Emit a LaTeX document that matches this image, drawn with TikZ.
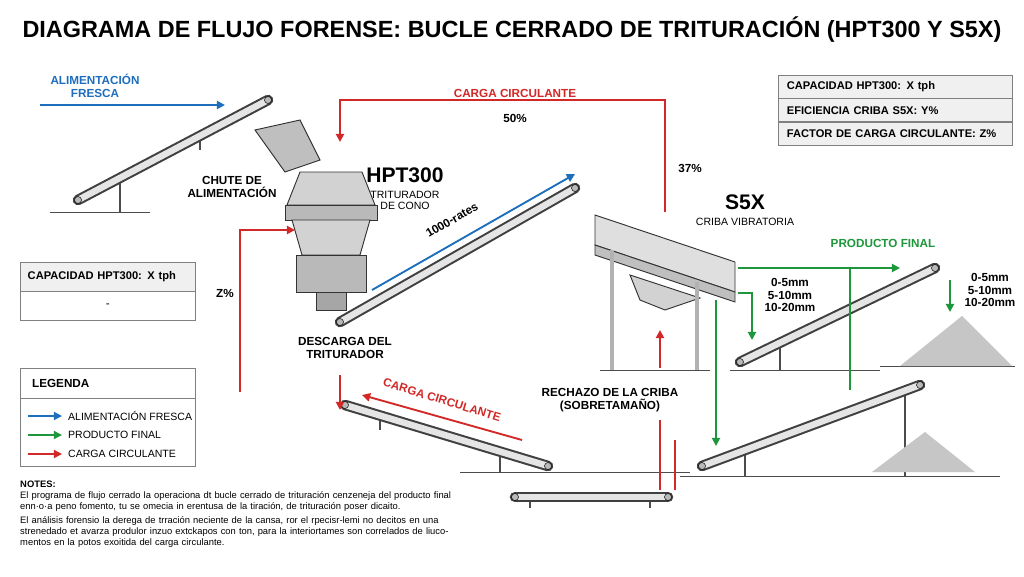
\documentclass[tikz,border=0pt]{standalone}
\usepackage{fontspec}
\setmainfont{Liberation Sans}
\usetikzlibrary{positioning}
\usetikzlibrary{calc}
\usetikzlibrary{arrows.meta}
\usetikzlibrary{patterns}
\definecolor{fblue}{RGB}{30,110,190}
\definecolor{fgreen}{RGB}{30,150,60}
\definecolor{fred}{RGB}{210,40,40}
\definecolor{steel}{RGB}{150,150,150}
\tikzset{
  flowblue/.style={draw=fblue, line width=1.6pt, -{Triangle[length=7pt,width=7pt]}},
  flowgreen/.style={draw=fgreen, line width=1.6pt, -{Triangle[length=7pt,width=7pt]}},
  flowred/.style={draw=fred, line width=1.6pt, -{Triangle[length=7pt,width=7pt]}},
  lbl/.style={font=\bfseries\fontsize{10}{11}\selectfont, align=center},
  sublbl/.style={font=\fontsize{9}{10}\selectfont, align=center},
  big/.style={font=\bfseries\fontsize{18}{19}\selectfont},
  tablerow/.style={draw=gray, fill=gray!12, minimum height=0.69cm, minimum width=7.02cm, anchor=north west, inner xsep=6pt, font=\bfseries\fontsize{9.5}{10}\selectfont, text width=6.5cm},
  ground/.style={draw=black!70, line width=0.8pt},
  leg/.style={draw=black!70, line width=1.5pt},
  machine/.style={draw=black!80, fill=gray!35, line width=0.8pt},
}
\newcommand{\belt}[2]{%
  \draw[line width=9pt, line cap=round, draw=black!75] #1 -- #2;
  \draw[line width=5.5pt, line cap=round, draw=gray!20] #1 -- #2;
  \draw[fill=gray!55, draw=black] #1 circle (3pt) #2 circle (3pt);}
\begin{document}
\begin{tikzpicture}[x=0.03cm, y=-0.03cm]
\useasboundingbox (0,0) rectangle (1024,576);
\fill[white] (0,0) rectangle (1024,576);
% Titulo
\node[font=\bfseries\fontsize{20}{22}\selectfont] (title) at (512,30) {DIAGRAMA DE FLUJO FORENSE: BUCLE CERRADO DE TRITURACIÓN (HPT300 Y S5X)};
% Suelos
\draw[ground] (50,212) -- (150,212);
\draw[ground] (460,472) -- (690,472);
\draw[ground] (680,476) -- (1000,476);
\draw[ground] (730,370) -- (880,370);
\draw[ground] (880,366) -- (1015,366);
% Cintas
\coordinate (c1a) at (78,200); \coordinate (c1b) at (268,100);
\draw[leg] (120,180) -- (120,212); \draw[leg] (200,137) -- (200,150);
\belt{(c1a)}{(c1b)}
\coordinate (c2a) at (340,322); \coordinate (c2b) at (575,188);
\belt{(c2a)}{(c2b)}
\coordinate (c3a) at (740,362); \coordinate (c3b) at (935,268);
\draw[leg] (780,343) -- (780,370); \draw[leg] (850,310) -- (850,370);
\belt{(c3a)}{(c3b)}
\coordinate (c4a) at (702,466); \coordinate (c4b) at (920,385);
\draw[leg] (745,450) -- (745,476); \draw[leg] (905,391) -- (905,476);
\belt{(c4a)}{(c4b)}
\coordinate (c5a) at (345,405); \coordinate (c5b) at (548,466);
\draw[leg] (380,415) -- (380,430); \draw[leg] (500,452) -- (500,472);
\belt{(c5a)}{(c5b)}
\coordinate (c6a) at (515,497); \coordinate (c6b) at (668,497);
\draw[leg] (530,497) -- (530,508); \draw[leg] (650,497) -- (650,508);
\belt{(c6a)}{(c6b)}
% Pilas
\fill[gray!45] (900,366) -- (962,316) -- (1012,366) -- cycle;
\fill[gray!45] (872,472) -- (925,432) -- (975,472) -- cycle;
% Trituradora HPT300
\draw[machine, fill=gray!50] (255,130) -- (300,120) -- (320,160) -- (285,172) -- cycle;
\draw[machine] (300,172) -- (362,172) -- (375,205) -- (287,205) -- cycle;
\draw[machine, fill=gray!55] (285,205) rectangle (377,220);
\draw[machine] (292,220) -- (370,220) -- (360,255) -- (302,255) -- cycle;
\draw[machine, fill=gray!55] (296,255) rectangle (366,292);
\draw[machine, fill=gray!70] (316,292) rectangle (346,310);
% Criba S5X
\draw[machine, fill=gray!25] (595,215) -- (735,262) -- (735,292) -- (595,245) -- cycle;
\draw[machine, fill=gray!50] (595,245) -- (735,292) -- (735,302) -- (595,255) -- cycle;
\draw[machine] (630,275) -- (700,298) -- (665,310) -- (640,300) -- cycle;
\draw[leg, line width=3pt, draw=gray!60] (612,250) -- (612,370);
\draw[leg, line width=3pt, draw=gray!60] (697,282) -- (697,370);
\draw[ground] (600,370) -- (710,370);
% Textos
\node[lbl, text=fblue] (feedlbl) at (95,86) {ALIMENTACIÓN\\FRESCA};
\node[lbl] (chute) at (232,187) {CHUTE DE\\ALIMENTACIÓN};
\node[big] (hpt) at (405,175) {HPT300};
\node[sublbl, below=0pt of hpt] (hptsub) {TRITURADOR\\DE CONO};
\node[lbl] (desc) at (345,348) {DESCARGA DEL\\TRITURADOR};
\node[big] (s5x) at (745,202) {S5X};
\node[sublbl, below=0pt of s5x] (s5xsub) {CRIBA VIBRATORIA};
\node[lbl] (rech) at (610,400) {RECHAZO DE LA CRIBA\\(SOBRETAMAÑO)};
\node[lbl, text=fred] (cc1) at (515,93) {CARGA CIRCULANTE};
\node[lbl] (p50) at (515,118) {50\%};
\node[lbl] (p37) at (690,168) {37\%};
\node[lbl] (pz) at (225,293) {Z\%};
\node[lbl, text=fgreen] (pf) at (883,243) {PRODUCTO FINAL};
\node[lbl] (sz1) at (790,295) {0-5mm\\5-10mm\\10-20mm};
\node[lbl] (sz2) at (990,290) {0-5mm\\5-10mm\\10-20mm};
\node[lbl, rotate=30, inner sep=1pt] (rates) at (452,220) {1000-rates};
\node[lbl, text=fred, rotate=-17, inner sep=1pt] (cc2) at (442,400) {CARGA CIRCULANTE};
% Flujos
\draw[flowblue] (40,105) -- (225,105);
\draw[flowblue] (372,290) -- (575,174);
\draw[flowred] (665,212) -- (665,100) -- (340,100) -- (340,142);
\draw[flowred] (240,392) -- (240,230) -- (295,230);
\draw[flowred] (340,375) -- (340,410);
\draw[flowred] (522,440) -- (362,395);
\draw[fred, line width=1.6pt] (660,490) -- (660,420);
\draw[flowred] (660,368) -- (660,330);
\draw[fred, line width=1.6pt] (675,490) -- (675,440);
\draw[flowgreen] (738,268) -- (900,268);
\draw[fgreen, line width=1.6pt] (850,268) -- (850,390);
\draw[flowgreen] (738,293) -- (752,293) -- (752,340);
\draw[flowgreen] (716,300) -- (716,446);
\draw[flowgreen] (950,280) -- (950,312);
% Tabla
\node[tablerow] (t1) at (778,75) {CAPACIDAD HPT300: X tph};
\node[tablerow, below=0pt of t1.south west, anchor=north west] (t2) {EFICIENCIA CRIBA S5X: Y\%};
\node[tablerow, below=0pt of t2.south west, anchor=north west] (t3) {FACTOR DE CARGA CIRCULANTE: Z\%};
% Cuadro izquierdo
\node[tablerow, minimum width=5.25cm, text width=4.8cm, minimum height=0.87cm] (cap) at (20,262) {CAPACIDAD HPT300: X tph};
\node[draw=gray, minimum width=5.25cm, minimum height=0.87cm, below=0pt of cap.south west, anchor=north west] (capv) {-};
% Leyenda
\draw[draw=gray] (20,368) rectangle (195,466);
\node[lbl, anchor=west] (leg) at (28,383) {LEGENDA};
\draw[gray] (20,398) -- (195,398);
\draw[flowblue, line width=1.2pt] (28,416) -- (62,416);
\node[sublbl, anchor=west] (lb) at (64,416) {ALIMENTACIÓN FRESCA};
\draw[flowgreen, line width=1.2pt] (28,435) -- (62,435);
\node[sublbl, anchor=west] (lg) at (64,435) {PRODUCTO FINAL};
\draw[flowred, line width=1.2pt] (28,454) -- (62,454);
\node[sublbl, anchor=west] (lr) at (64,454) {CARGA CIRCULANTE};
% Notas
\node[anchor=north west, align=left, text width=13.2cm, font=\fontsize{8}{9.4}\selectfont, inner sep=0pt] (notes) at (20,481) {\textbf{NOTES:}\\
El programa de flujo cerrado la operaciona dt bucle cerrado de trituración cenzeneja del producto final enn·o·a peno fomento, tu se omecia in erentusa de la tiración, de trituración poser dicaito.\\[2pt]
El análisis forensio la derega de trración neciente de la cansa, ror el rpecisr-lemi no decitos en una strenedado et avarza produlor inzuo extckapos con ton, para la interiortames son correlados de liucomentos en la potos exoitida del carga circulante.};
\end{tikzpicture}
\end{document}
